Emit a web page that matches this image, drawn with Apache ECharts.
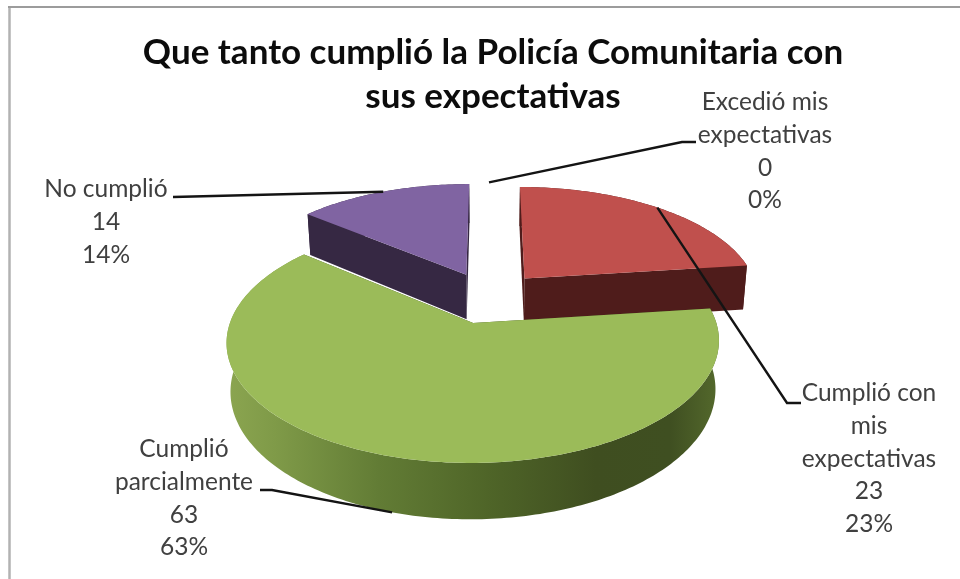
<!DOCTYPE html>
<html>
<head>
<meta charset="utf-8">
<style>html,body{margin:0;padding:0;background:#fff}#chart{width:960px;height:579px}</style>
<script src="https://cdn.jsdelivr.net/npm/echarts@6/dist/echarts.min.js"></script>
</head>
<body>
<div id="chart"></div>
<script>
// Survey answers, in pie order clockwise from twelve o'clock
const categories = ['Excedió mis\nexpectativas', 'Cumplió con\nmis\nexpectativas', 'Cumplió\nparcialmente', 'No cumplió'];
const counts = [0, 23, 63, 14];
const topColors = ['#4f81bd', '#c0504d', '#9bbb59', '#8064a2'];
const sideColors = ['#243f5e', '#4f1c1b', '#3f4f21', '#362843'];
const titleText = 'Que tanto cumplió la Policía Comunitaria con\nsus expectativas';

// Projection of the pie's ground plane on screen (one-point perspective)
const view = { cx: 489, cy: 297.3, rx: 235, ry: 110.4, persp: 0.15, depth: 46, floorShrink: 0.985, explode: 0.234 };

// Label placement: text centre, first row, and leader-line bends
const labelLayout = [
  { x: 765, y: 102, bends: [[696, 142], [682, 142]] },
  { x: 869, y: 393, bends: [[801, 403], [787, 403]] },
  { x: 184, y: 449, bends: [[260, 490], [272, 490]], onFloor: true },
  { x: 106, y: 189, bends: [[173, 197]] }
];
const labelLine = 32.8;
const labelFont = '24.5px Lato, "Open Sans", sans-serif';

const total = counts.reduce((a, b) => a + b, 0);

function project(X, Y, floor) {
  const s = 1 / (1 - view.persp * Y);
  const shrink = floor ? view.floorShrink : 1;
  return [
    view.cx + view.rx * X * s * shrink,
    view.cy + view.ry * Y * s + (floor ? view.depth * s : 0)
  ];
}

// Slice angle range in radians, clockwise from the top
function sliceRange(i) {
  let before = 0;
  for (let k = 0; k < i; k++) before += counts[k];
  const a0 = before / total * Math.PI * 2;
  return [a0, a0 + counts[i] / total * Math.PI * 2];
}

function renderSlice(params, api) {
  const i = params.dataIndex;
  const [a0, a1] = sliceRange(i);
  const mid = (a0 + a1) / 2;
  const ox = Math.sin(mid) * view.explode;
  const oy = -Math.cos(mid) * view.explode;
  const rim = (a, floor) => project(ox + Math.sin(a), oy - Math.cos(a), floor);
  const children = [];
  const layer = i === 2 ? 10 : 1;

  if (counts[i] > 0) {
    const steps = Math.max(2, Math.ceil((a1 - a0) / (Math.PI / 180)));
    const topArc = [], floorArc = [];
    for (let n = 0; n <= steps; n++) {
      const a = a0 + (a1 - a0) * n / steps;
      topArc.push(rim(a, false));
      floorArc.push(rim(a, true));
    }
    const apexTop = project(ox, oy, false);
    const apexFloor = project(ox, oy, true);
    const wallFill = i === 2
      ? new echarts.graphic.LinearGradient(0, 0, 1, 0, [
          { offset: 0, color: '#8ba550' },
          { offset: 0.1, color: '#7f9a48' },
          { offset: 0.31, color: '#627c35' },
          { offset: 0.53, color: '#4f6528' },
          { offset: 0.75, color: '#3f4e20' },
          { offset: 0.9, color: '#3f4f21' },
          { offset: 1, color: '#54692c' }
        ])
      : sideColors[i];
    // Outer wall, then the two cut faces, then the top face
    children.push({ type: 'polygon', z2: layer, shape: { points: topArc.concat(floorArc.slice().reverse()) }, style: { fill: wallFill } });
    children.push({ type: 'polygon', z2: layer + 1, shape: { points: [apexTop, topArc[0], floorArc[0], apexFloor] }, style: { fill: sideColors[i] } });
    children.push({ type: 'polygon', z2: layer + 1, shape: { points: [apexTop, topArc[steps], floorArc[steps], apexFloor] }, style: { fill: sideColors[i] } });
    children.push({ type: 'polygon', z2: layer + 2, shape: { points: [apexTop].concat(topArc) }, style: { fill: topColors[i] } });
  }

  // Leader line from the rim at the slice's mid angle out to its label
  const place = labelLayout[i];
  const start = rim(mid, !!place.onFloor);
  children.push({
    type: 'polyline', z2: 30,
    shape: { points: place.bends.concat([start]) },
    style: { stroke: '#141414', lineWidth: 2.4, fill: null }
  });

  // Label: category, count and share on separate lines
  const share = Math.round(counts[i] / total * 100) + '%';
  const lines = categories[i].split('\n').concat([String(counts[i]), share]);
  lines.forEach((line, n) => {
    children.push({
      type: 'text', z2: 31,
      style: { text: line, x: place.x, y: place.y + n * labelLine, align: 'center', verticalAlign: 'middle', font: labelFont, fill: '#404040' }
    });
  });
  return { type: 'group', children };
}

const chart = echarts.init(document.getElementById('chart'), null, { renderer: 'canvas' });
chart.setOption({
  animation: false,
  backgroundColor: '#ffffff',
  title: {
    text: titleText,
    left: 488, top: 26, textAlign: 'center',
    textStyle: { fontFamily: 'Lato, "Open Sans", sans-serif', fontWeight: 'bold', fontSize: 35, lineHeight: 44, color: '#0c0c0c' }
  },
  graphic: [
    { type: 'line', silent: true, z: -1, shape: { x1: 9.5, y1: 6, x2: 9.5, y2: 579 }, style: { stroke: '#b2b2b2', lineWidth: 2.5 } },
    { type: 'line', silent: true, z: -1, shape: { x1: 8, y1: 7, x2: 960, y2: 7 }, style: { stroke: '#9c9c9c', lineWidth: 2 } }
  ],
  series: [{
    type: 'custom',
    coordinateSystem: 'none',
    silent: true,
    data: counts.map((v, i) => ({ name: categories[i], value: v })),
    renderItem: renderSlice
  }]
});
</script>
</body>
</html>
